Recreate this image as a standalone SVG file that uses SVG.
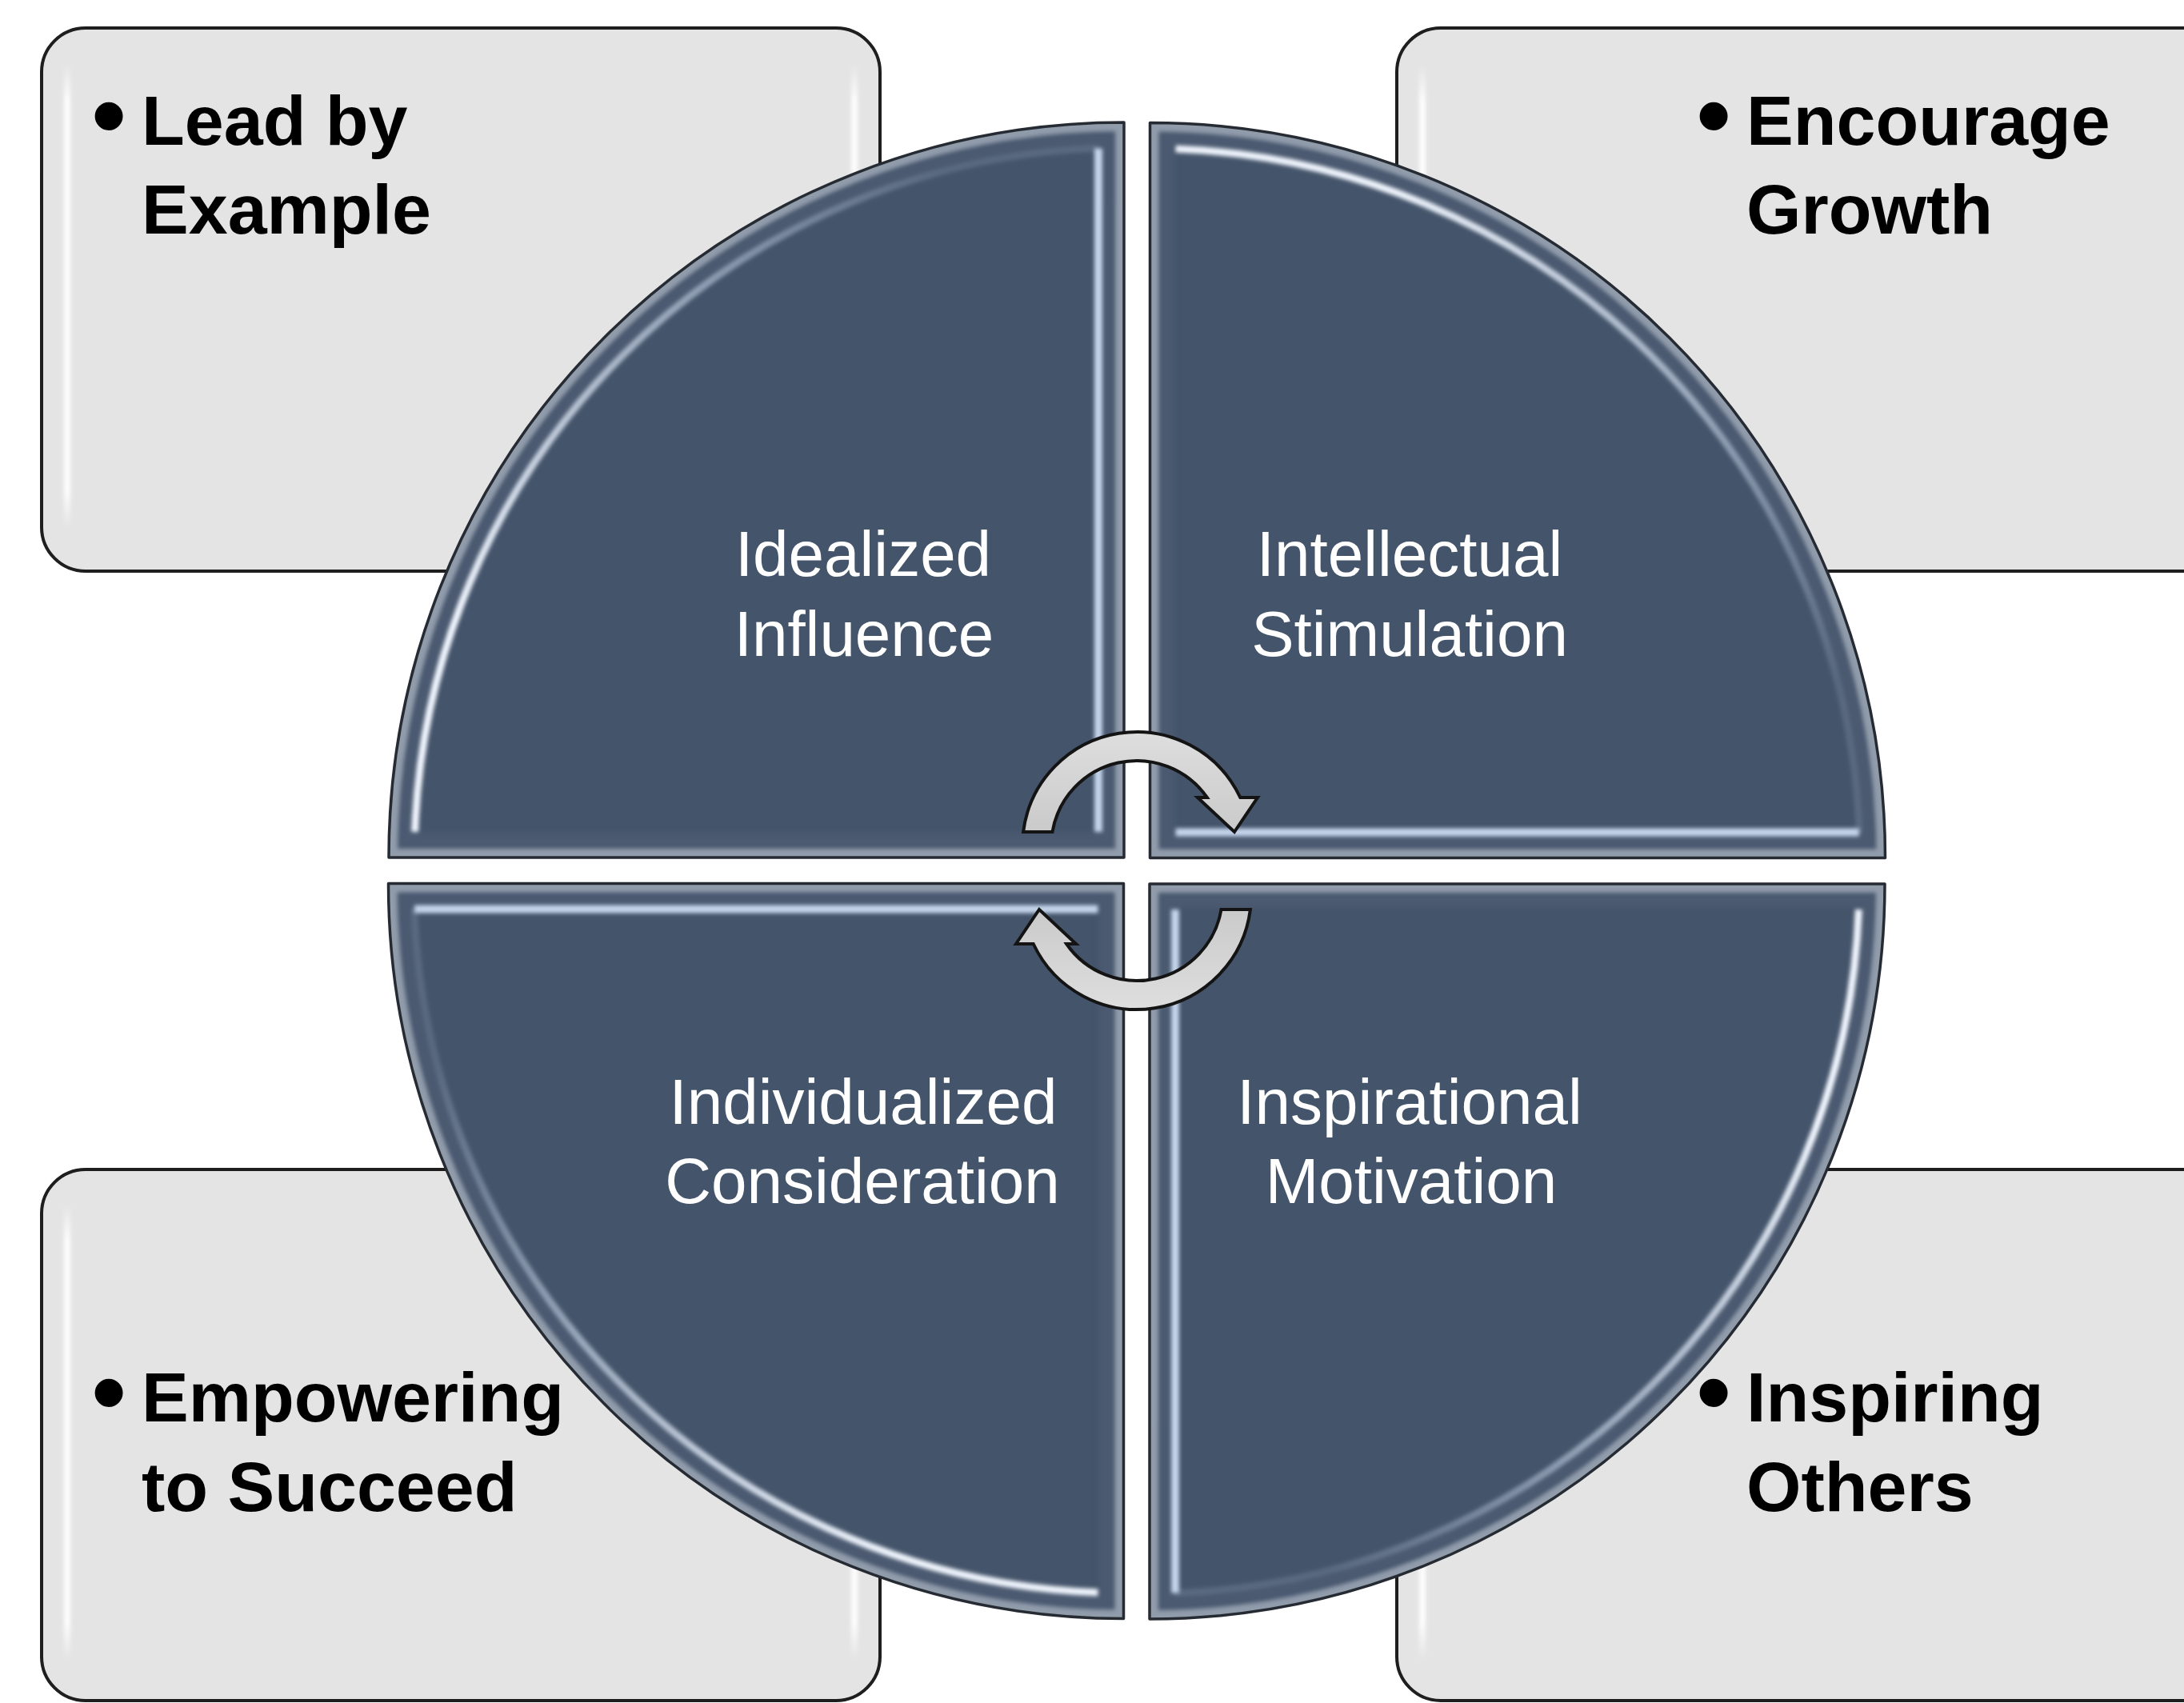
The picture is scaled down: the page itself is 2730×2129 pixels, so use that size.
<svg xmlns="http://www.w3.org/2000/svg" xmlns:xlink="http://www.w3.org/1999/xlink" width="2730" height="2129" viewBox="0 0 2730 2129">
  <style>
    .box { fill: #e4e4e4; stroke: #1e1e1e; stroke-width: 4; }
    .shine { fill: url(#boxShine); filter: url(#soft); }
    .item { font-family: "Liberation Sans", Arial, sans-serif; font-weight: bold; font-size: 88px; fill: #000; }
    .dot { font-family: "Liberation Sans", Arial, sans-serif; font-weight: bold; font-size: 122px; fill: #000; text-anchor: middle; }
    .label { font-family: "Liberation Sans", Arial, sans-serif; font-size: 80px; fill: #ffffff; text-anchor: middle; }
    .qfill { fill: #44546a; }
    .qline { fill: none; stroke: #262b33; stroke-width: 3.5; stroke-linejoin: round; }
    .arrow { fill: url(#arrowFill); stroke: #141414; stroke-width: 4; stroke-linejoin: miter; }
  </style>
  <defs>
    <!-- blur regions are given in user space so thin straight strokes are not clipped away -->
    <filter id="soft" filterUnits="userSpaceOnUse" x="-200" y="-200" width="3130" height="2529">
      <feGaussianBlur stdDeviation="2.5"/>
    </filter>
    <filter id="softer" filterUnits="userSpaceOnUse" x="-200" y="-200" width="3130" height="2529">
      <feGaussianBlur stdDeviation="5"/>
    </filter>
    <linearGradient id="boxShine" x1="0" y1="0" x2="0" y2="1">
      <stop offset="0" stop-color="#ffffff" stop-opacity="0"/>
      <stop offset="0.08" stop-color="#ffffff" stop-opacity="0.95"/>
      <stop offset="0.92" stop-color="#ffffff" stop-opacity="0.95"/>
      <stop offset="1" stop-color="#ffffff" stop-opacity="0"/>
    </linearGradient>
    <linearGradient id="arrowFill" x1="0" y1="0" x2="0" y2="1">
      <stop offset="0" stop-color="#dedede"/>
      <stop offset="1" stop-color="#cacaca"/>
    </linearGradient>
    <!-- arc highlight: faint near the top end, bright toward the left end -->
    <linearGradient id="arcGlow" gradientUnits="userSpaceOnUse" x1="1150" y1="180" x2="560" y2="760">
      <stop offset="0" stop-color="#c9d8ec" stop-opacity="0.15"/>
      <stop offset="0.45" stop-color="#d3e0f2" stop-opacity="0.6"/>
      <stop offset="1" stop-color="#f2f7ff" stop-opacity="1"/>
    </linearGradient>
    <clipPath id="qclip">
      <path d="M1405 1072 L1405 153 A919 919 0 0 0 486 1072 Z"/>
    </clipPath>
    <!-- one bevelled quarter disc; the other three are rotations about the hub -->
    <g id="quad">
      <path class="qfill" d="M1405 1072 L1405 153 A919 919 0 0 0 486 1072 Z"/>
      <g clip-path="url(#qclip)">
        <path d="M1405 1072 L1405 153 A919 919 0 0 0 486 1072 Z" fill="none" stroke="#56647a" stroke-width="60" opacity="0.45" filter="url(#softer)"/>
        <path d="M1405 1072 L1405 153 A919 919 0 0 0 486 1072 Z" fill="none" stroke="#aeb8c4" stroke-width="22" opacity="0.7" filter="url(#soft)"/>
        <path d="M1373 1040 L1373 185.6" fill="none" stroke="#c4d5ec" stroke-width="10" filter="url(#soft)"/>
        <path d="M1373 185.6 A887 887 0 0 0 518.6 1040" fill="none" stroke="url(#arcGlow)" stroke-width="9" filter="url(#soft)"/>
      </g>
      <path class="qline" d="M1405 1072 L1405 153 A919 919 0 0 0 486 1072 Z"/>
    </g>
    <!-- curved cycle arrow -->
    <path id="cyc" class="arrow" d="M1279.1 1040 A143 143 0 0 1 1550.3 997 L1572 997 L1543 1040 L1497 997 L1508.9 997 A107 107 0 0 0 1315.5 1040 Z"/>
  </defs>

  <rect width="2730" height="2129" fill="#ffffff"/>

  <!-- outer bullet boxes -->
  <g id="box-lead">
    <rect class="box" x="52" y="35" width="1048" height="679" rx="55"/>
    <rect class="shine" x="80" y="80" width="8" height="580"/>
    <rect class="shine" x="1064" y="80" width="8" height="580"/>
    <text class="dot" x="136" y="186">•</text>
    <text class="item" x="177" y="181">Lead by</text>
    <text class="item" x="177" y="292">Example</text>
  </g>
  <g id="box-growth">
    <rect class="box" x="1746" y="35" width="1100" height="679" rx="55"/>
    <rect class="shine" x="1774" y="80" width="8" height="580"/>
    <text class="dot" x="2142" y="186">•</text>
    <text class="item" x="2183" y="181">Encourage</text>
    <text class="item" x="2183" y="292">Growth</text>
  </g>
  <g id="box-empower">
    <rect class="box" x="52" y="1462" width="1048" height="664" rx="55"/>
    <rect class="shine" x="80" y="1505" width="8" height="570"/>
    <rect class="shine" x="1064" y="1505" width="8" height="570"/>
    <text class="dot" x="136" y="1782">•</text>
    <text class="item" x="177" y="1777">Empowering</text>
    <text class="item" x="177" y="1889">to Succeed</text>
  </g>
  <g id="box-inspire">
    <rect class="box" x="1746" y="1462" width="1100" height="664" rx="55"/>
    <rect class="shine" x="1774" y="1505" width="8" height="570"/>
    <text class="dot" x="2142" y="1782">•</text>
    <text class="item" x="2183" y="1777">Inspiring</text>
    <text class="item" x="2183" y="1889">Others</text>
  </g>

  <!-- four quarters of the central disc -->
  <g id="q-idealized">
    <use xlink:href="#quad" href="#quad"/>
    <text class="label" x="1079" y="720">Idealized</text>
    <text class="label" x="1080" y="820">Influence</text>
  </g>
  <g id="q-intellectual">
    <use xlink:href="#quad" href="#quad" transform="rotate(90 1421 1088.5)"/>
    <text class="label" x="1762" y="720">Intellectual</text>
    <text class="label" x="1762" y="820">Stimulation</text>
  </g>
  <g id="q-inspirational">
    <use xlink:href="#quad" href="#quad" transform="rotate(180 1421 1088.5)"/>
    <text class="label" x="1762" y="1405">Inspirational</text>
    <text class="label" x="1764" y="1504">Motivation</text>
  </g>
  <g id="q-individualized">
    <use xlink:href="#quad" href="#quad" transform="rotate(270 1421 1088.5)"/>
    <text class="label" x="1079" y="1405">Individualized</text>
    <text class="label" x="1078" y="1504">Consideration</text>
  </g>

  <!-- cycle arrows at the hub -->
  <g id="connectors">
    <use xlink:href="#cyc" href="#cyc"/>
    <use xlink:href="#cyc" href="#cyc" transform="rotate(180 1421 1088.5)"/>
  </g>
</svg>
